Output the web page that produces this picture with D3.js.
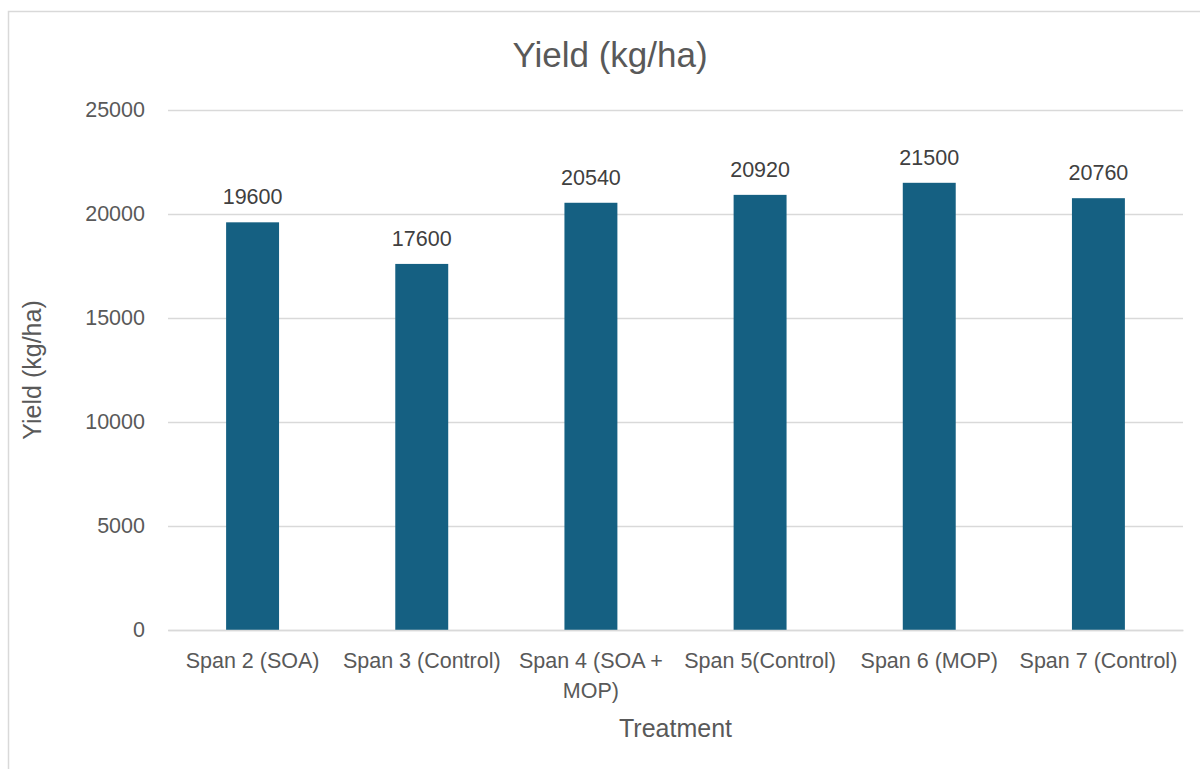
<!DOCTYPE html>
<html>
<head>
<meta charset="utf-8">
<script src="https://cdn.jsdelivr.net/npm/d3@7"></script>
<style>
  body { margin: 0; background: #fff; }
  svg { display: block; font-family: "Liberation Sans", Arial, sans-serif; }
</style>
</head>
<body>
<div class="container"></div>
<script>
var categories = ['Span 2 (SOA)', 'Span 3 (Control)', 'Span 4 (SOA + MOP)', 'Span 5(Control)', 'Span 6 (MOP)', 'Span 7 (Control)'];
var yields = [19600, 17600, 20540, 20920, 21500, 20760];
var yTicks = [0, 5000, 10000, 15000, 20000, 25000];
var chartTitle = 'Yield (kg/ha)';
var xTitle = 'Treatment';
var yTitle = 'Yield (kg/ha)';

var wrapText = function (textSel, width) {
    textSel.each(function () {
        var text = d3.select(this);
        var words = text.text().split(/\s+/);
        var x = text.attr('x') || 0;
        var line = [];
        text.text(null);
        var tspan = text.append('tspan').attr('x', x).attr('dy', 0);
        words.forEach(function (w) {
            line.push(w);
            tspan.text(line.join(' '));
            if (tspan.node().getComputedTextLength() > width && line.length > 1) {
                line.pop();
                tspan.text(line.join(' '));
                line = [w];
                tspan = text.append('tspan').attr('x', x).attr('dy', '1.38em').text(w);
            }
        });
    });
};

var loadChart = function () {
    const WIDTH = 1200;
    const HEIGHT = 769;
    const MARGIN = { top: 110, right: 17, bottom: 139, left: 168 };
    var svg = d3.select('.container').append('svg')
        .attr('width', WIDTH)
        .attr('height', HEIGHT);

    // chart frame
    svg.append('rect')
        .attr('x', 8.5).attr('y', 11.5)
        .attr('width', 1230).attr('height', 800)
        .attr('fill', 'none').attr('stroke', '#d9d9d9').attr('stroke-width', 1.5);

    var xScale = d3.scaleBand()
        .domain(categories)
        .range([MARGIN.left, WIDTH - MARGIN.right])
        .paddingInner(0.687).paddingOuter(0.3435);
    var yScale = d3.scaleLinear()
        .domain([0, 25000])
        .range([HEIGHT - MARGIN.bottom, MARGIN.top]);

    // gridlines + tick labels
    var yAxis = svg.append('g')
        .attr('transform', 'translate(' + MARGIN.left + ',0)')
        .call(d3.axisLeft(yScale).tickValues(yTicks)
            .tickSize(-(WIDTH - MARGIN.right - MARGIN.left))
            .tickPadding(23)
            .tickFormat(d3.format('d')));
    yAxis.select('.domain').remove();
    yAxis.selectAll('line').attr('stroke', '#d9d9d9').attr('stroke-width', 1.5);
    yAxis.selectAll('text').attr('fill', '#595959').attr('font-size', '21.5px')
        .attr('font-family', '"Liberation Sans", Arial, sans-serif');

    // bars
    svg.append('g').selectAll('rect')
        .data(yields)
        .enter().append('rect')
        .attr('x', function (d, i) { return xScale(categories[i]); })
        .attr('y', function (d) { return yScale(d); })
        .attr('width', xScale.bandwidth())
        .attr('height', function (d) { return yScale(0) - yScale(d); })
        .attr('fill', '#156082');

    // value labels
    svg.append('g').selectAll('text')
        .data(yields)
        .enter().append('text')
        .attr('x', function (d, i) { return xScale(categories[i]) + xScale.bandwidth() / 2; })
        .attr('y', function (d) { return yScale(d) - 18; })
        .attr('text-anchor', 'middle')
        .attr('fill', '#404040')
        .attr('font-size', '21.5px')
        .text(function (d) { return d; });

    // category labels
    var xAxis = svg.append('g')
        .attr('transform', 'translate(0,' + (HEIGHT - MARGIN.bottom) + ')')
        .call(d3.axisBottom(xScale).tickSize(0).tickPadding(0));
    xAxis.select('.domain').attr('stroke', '#d9d9d9').attr('stroke-width', 1.5);
    xAxis.selectAll('text')
        .attr('fill', '#595959').attr('font-size', '21.5px')
        .attr('font-family', '"Liberation Sans", Arial, sans-serif')
        .attr('y', 38).attr('dy', 0)
        .call(wrapText, xScale.step() - 8);

    // titles
    svg.append('text')
        .attr('x', 610).attr('y', 67)
        .attr('text-anchor', 'middle')
        .attr('fill', '#595959').attr('font-size', '35px')
        .text(chartTitle);
    svg.append('text')
        .attr('x', (MARGIN.left + WIDTH - MARGIN.right) / 2).attr('y', 737)
        .attr('text-anchor', 'middle')
        .attr('fill', '#595959').attr('font-size', '25px')
        .text(xTitle);
    svg.append('text')
        .attr('transform', 'translate(41,' + ((MARGIN.top + HEIGHT - MARGIN.bottom) / 2) + ') rotate(-90)')
        .attr('text-anchor', 'middle')
        .attr('fill', '#595959').attr('font-size', '25px')
        .text(yTitle);
};

window.onload = loadChart;
</script>
</body>
</html>
